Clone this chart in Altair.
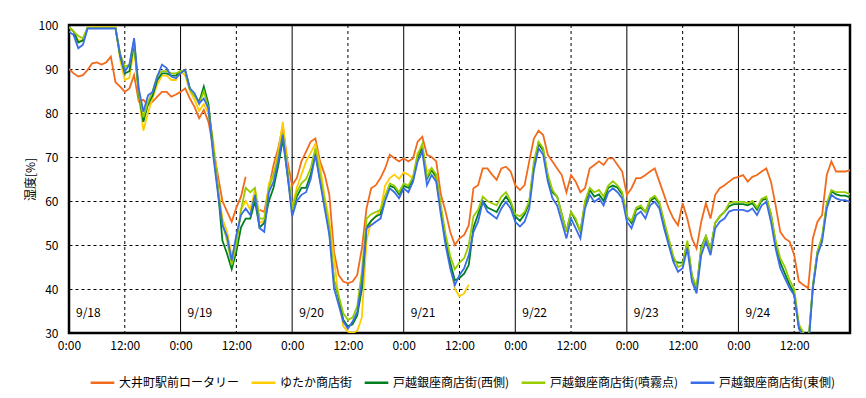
import altair as alt
import pandas as pd

FONT = "Noto Sans CJK JP"

hours = list(range(169))
series_names = ["大井町駅前ロータリー", "ゆたか商店街", "戸越銀座商店街(西側)",
                "戸越銀座商店街(噴霧点)", "戸越銀座商店街(東側)"]
series_colors = ["#F26B1D", "#FFCC00", "#007F1F", "#99CC00", "#3A6EE8"]

orange = [
    90, 89, 88.3, 88.6, 89.8, 91.3, 91.5, 91, 91.5, 92.8, 87, 86,
    84.8, 85.6, 88.6, 82.6, 83, 81.8, 82.6, 83.7, 84.8, 84.8, 83.7, 84.2,
    84.8, 85.6, 83.3, 81.4, 78.8, 80.7, 78, 72.3, 66, 60, 57.6, 55.3,
    58.5, 61, 65.5, None, None, 58, 57.5, 63, 68.2, 72, 77, 69,
    63.6, 65.2, 69, 71.2, 73.5, 74.2, 69, 66, 61.4, 48.5, 43.2, 41.7,
    41.3, 41.7, 43.2, 49.2, 58.3, 62.9, 63.6, 65.2, 67.4, 70.5, 69.7, 69,
    69.7, 69, 69.7, 73.5, 74.6, 70.5, 70, 69, 61.4, 57.6, 53, 50,
    51.5, 52.3, 54.5, 62.9, 63.6, 67.4, 67.4, 66, 64.8, 67.4, 67.8, 66.7,
    63.6, 62.5, 63.6, 69, 74.2, 76, 75, 70.5, 69, 67.4, 65.9, 62,
    65.9, 64.4, 62, 62.9, 67.4, 68.2, 69, 68.2, 69.7, 69.7, 68.2, 66.7,
    61.4, 62.9, 65.2, 65.2, 65.9, 66.7, 67.4, 64.4, 61.4, 58.3, 56, 54.5,
    59.5, 56, 51.5, 49.2, 55.3, 59.5, 56, 61.4, 62.9, 63.6, 64.4, 65.2,
    65.5, 65.9, 64.4, 65.5, 65.9, 66.7, 67.4, 64.4, 59, 53, 51.5, 50.8,
    47.7, 41.7, 40.9, 40.2, 51.5, 55.3, 56.8, 65.9, 69, 66.7, 66.7, 66.7,
    67,
]

yellow = [
    99.5, 98.5, 96.5, 96.5, 99.5, 99.5, 99.5, 99.5, 99.5, 99.5, 99.5, 92,
    87.5, 88, 95, 84, 76, 80, 83.5, 86.5, 88.5, 88.5, 87.5, 87.5,
    89.5, 88.5, 85, 83, 80.5, 82, 80, 74, 64, 56, 53, 47.5,
    50.5, 58, 60, 58, 62.5, 55, 55.5, 64, 66, 71, 78, 67.5,
    58.5, 63, 66, 69, 71, 73, 68, 61, 55.5, 47, 38, 31.5,
    30.3, 30, 30.5, 33.5, 51, 55.5, 56.5, 58, 63.5, 65.2, 66, 65,
    66.5, 66, 65, 71, 72, 66.7, 67.4, 64.4, 58, 51.5, 45.5, 40,
    38.3, 39, 41,
] + [None] * 82

dkgreen = [
    99.5, 98.5, 96, 96.5, 99.3, 99.3, 99.3, 99.3, 99.3, 99.3, 99.3, 93,
    89, 89.5, 96, 84.5, 78, 82, 84, 87.5, 89, 89, 88.5, 88.5,
    89.5, 89.5, 85.5, 84, 82.5, 86, 82, 72, 63, 51, 48, 44.5,
    48.5, 54, 56, 56, 60, 54, 55, 60, 63, 68, 74, 66,
    58, 61, 63, 63, 66, 71, 65, 59, 53, 42, 38, 33,
    31.5, 32, 34, 40, 54, 55.5, 56.5, 57, 61, 63.5, 63, 61.5,
    63.5, 63, 65, 70, 72, 65, 67, 65.5, 58, 51, 46, 42,
    42.5, 43.5, 45.5, 54, 57, 60, 58.5, 58, 57.5, 59.5, 61, 59.5,
    56.5, 55.5, 57, 59.5, 68, 73, 71.5, 65.5, 62, 61, 57, 53,
    57.5, 55.5, 53, 59.5, 62.5, 61, 61.5, 60, 63, 63.5, 63, 61.5,
    56.5, 55, 58, 58.5, 57.5, 60, 60.8, 59.3, 55, 51, 46.5, 46,
    46, 50.5, 43, 40, 49.5, 52, 49, 55, 56.5, 57.5, 58.8, 59.3,
    59.3, 59.3, 59, 59.5, 58, 60.2, 60.5, 57, 50.5, 46, 43.5, 41,
    39, 31.5, 29.5, 27, 40.5, 48.5, 51.5, 59, 62.2, 61.5, 61.2, 61.2,
    60.8,
]

ltgreen = [
    99.5, 98.5, 97.5, 97, 99.4, 99.4, 99.4, 99.4, 99.4, 99.4, 99.4, 93.5,
    90.5, 91, 96.5, 85, 79, 82.5, 85, 88.5, 89.5, 89.5, 89, 89,
    89.5, 89.5, 85.5, 84, 82, 85, 81, 71.5, 63, 55, 51, 45.5,
    50, 58, 63, 62, 63, 56, 56, 63, 66, 70, 75.5, 67,
    58, 62, 64, 65, 67.5, 72, 66, 60, 54, 42, 38.5, 34.5,
    33, 33.5, 36, 44, 56, 57, 57.5, 58, 61, 64, 63.5, 62,
    64, 63.5, 65.5, 70.5, 73, 65.5, 67.5, 66, 59, 52.5, 47.5, 44.5,
    46, 47, 50, 56.5, 58, 61, 60, 59.5, 59, 61, 62, 60,
    57, 56.5, 57.5, 60, 69, 73.5, 72, 66, 62.5, 61, 57, 53,
    57.5, 56, 53, 60, 63, 62, 62.5, 61, 63.5, 64.5, 63.5, 62,
    56.5, 55.5, 58.5, 59, 57.5, 60.5, 61.2, 59.7, 55.5, 51.5, 47.5, 45,
    45.5, 51, 43, 40.5, 49, 52, 49, 55, 56.5, 57.5, 59.5, 59.8,
    59.8, 59.8, 59.5, 60, 58.5, 60.5, 61, 57, 51, 47, 45, 42,
    40, 32, 30, 27.5, 40.5, 48.5, 52, 59.5, 62.5, 62, 62, 62,
    61.5,
]

blue = [
    98.5, 97.7, 94.7, 95.5, 99.2, 99.2, 99.2, 99.2, 99.2, 99.2, 99.2, 93.2,
    89.4, 91, 97, 85.6, 80.3, 84, 84.8, 88.3, 91, 90.2, 88.3, 87.9,
    89, 89.8, 85.6, 84.5, 82.2, 83.3, 81, 70.5, 62, 54.5, 52, 46.5,
    52.3, 56.8, 58.3, 56.8, 61.4, 53.8, 53, 62, 64.4, 69, 75, 66,
    56.5, 60, 61.4, 62, 65, 70.5, 64.4, 58.3, 52.3, 40.2, 36.4, 32.6,
    31, 32.6, 34.8, 41.7, 53.8, 54.5, 55.3, 56, 60, 62.9, 62, 60.6,
    62.9, 62, 64.4, 69, 71.2, 63.6, 65.9, 64.4, 56.8, 50, 44.7, 40.9,
    43.2, 44.7, 47.7, 53, 55.3, 59.8, 57.6, 56.8, 56, 58.3, 59.8, 58.3,
    55.3, 54.2, 55.3, 58.3, 67, 72, 70.5, 64.4, 60.6, 59, 55.3, 51.5,
    56, 53.8, 51.5, 58.3, 61.4, 59.8, 60.6, 59, 62, 62.9, 62, 60.6,
    55.3, 53.8, 56.8, 57.6, 56, 59, 59.8, 58.3, 53.8, 50, 46.2, 43.9,
    44.7, 49.2, 41.7, 39, 47.7, 50.8, 47.7, 53.8, 55.3, 56, 57.6, 58,
    58, 58, 57.6, 58.3, 56.8, 59, 59.8, 55.3, 49.2, 44.7, 42.4, 40.2,
    38.6, 31, 29, 26, 40, 47.7, 50.8, 58.3, 61.4, 60.6, 60.2, 60.2,
    59.8,
]

tick_hours = [0, 12, 24, 36, 48, 60, 72, 84, 96, 108, 120, 132, 144, 156]
midnight_hours = [24, 48, 72, 96, 120, 144]
noon_hours = [12, 36, 60, 84, 108, 132, 156]
day_start_hours = [0, 24, 48, 72, 96, 120, 144]
day_labels = ["9/18", "9/19", "9/20", "9/21", "9/22", "9/23", "9/24"]
y_ticks = [30, 40, 50, 60, 70, 80, 90, 100]

rows = []
for name, vals in zip(series_names, [orange, yellow, dkgreen, ltgreen, blue]):
    for h, v in zip(hours, vals):
        rows.append({"hour": h, "value": v, "series": name})
df = pd.DataFrame(rows)

xscale = alt.Scale(domain=[0, 168], nice=False)
yscale = alt.Scale(domain=[30, 100], nice=False)

x_axis = alt.Axis(values=tick_hours, grid=False, ticks=False, domain=False,
                  labelExpr="datum.value % 24 == 0 ? '0:00' : '12:00'",
                  labelPadding=7, labelFontSize=12, labelFont=FONT,
                  labelColor="black", title=None, labelFlush=False)
y_axis = alt.Axis(values=y_ticks, grid=True, gridDash=[3, 3], gridColor="black",
                  gridWidth=1, gridOpacity=1, ticks=False, domain=False,
                  labelPadding=11, labelFontSize=12, labelFont=FONT,
                  labelColor="black", title="湿度[%]", titleFont=FONT,
                  titleFontSize=12, titleFontWeight="normal", titleColor="black",
                  titleX=-39, titleY=154, titleAngle=-90, titleAlign="center",
                  titleBaseline="middle")

mid_rules = alt.Chart(pd.DataFrame({"h": midnight_hours})).mark_rule(
    color="black", strokeWidth=1).encode(x=alt.X("h:Q", scale=xscale, axis=x_axis))
noon_rules = alt.Chart(pd.DataFrame({"h": noon_hours})).mark_rule(
    color="black", strokeWidth=1, strokeDash=[3, 3]).encode(x=alt.X("h:Q", scale=xscale))

lines = alt.Chart(df).mark_line(strokeWidth=1.8, clip=True,
                                invalid="break-paths-filter-domains").encode(
    x=alt.X("hour:Q", scale=xscale),
    y=alt.Y("value:Q", scale=yscale, axis=y_axis),
    color=alt.Color("series:N", sort=series_names,
                    scale=alt.Scale(domain=series_names, range=series_colors),
                    legend=alt.Legend(title=None, orient="none", direction="horizontal",
                                      legendX=20, legendY=344, symbolType="stroke",
                                      symbolSize=560, symbolStrokeWidth=2.5,
                                      labelFont=FONT, labelFontSize=12, labelColor="black",
                                      columnPadding=6, labelOffset=3, labelLimit=400)),
    detail="series:N",
)

dates = alt.Chart(pd.DataFrame({"h": day_start_hours, "label": day_labels, "v": [34.5] * 7})).mark_text(
    align="left", baseline="middle", dx=7, fontSize=12, font=FONT, color="black").encode(
    x=alt.X("h:Q", scale=xscale), y=alt.Y("v:Q", scale=yscale), text="label:N")

chart = alt.layer(noon_rules, mid_rules, lines, dates).properties(
    width=781, height=308,
    autosize=alt.AutoSizeParams(type="none"),
    padding={"left": 61, "top": 17, "right": 8, "bottom": 65},
    background="white",
).configure_view(stroke="black", strokeWidth=2.5)

chart.save("out.html", embed_options={"renderer": "svg", "actions": False})
